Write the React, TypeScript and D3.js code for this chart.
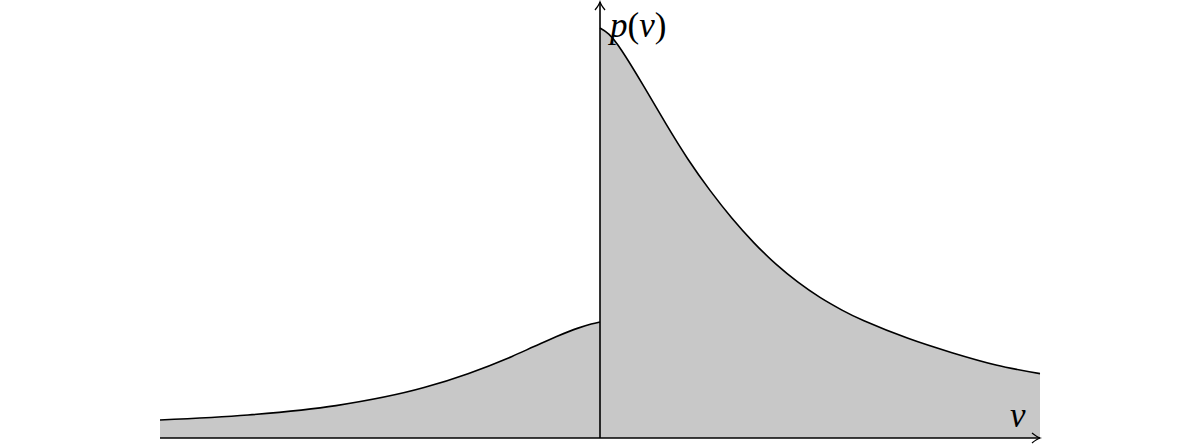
import React, { useEffect, useRef } from 'react';
import * as d3 from 'd3';

// density, negative side and positive side
const leftV = [-5, -4, -3, -2, -1.5, -1, -0.75, -0.5, -0.25, -0.1, 0];
const leftP = [0.044, 0.056, 0.079, 0.123, 0.157, 0.199, 0.223, 0.247, 0.268, 0.278, 0.283];
const rightV = [0, 0.1, 0.25, 0.5, 0.75, 1, 1.25, 1.5, 1.75, 2, 2.25, 2.5, 2.75, 3, 3.5, 4, 4.5, 5];
const rightP = [
  1.0, 0.985, 0.944, 0.857, 0.766, 0.68, 0.604, 0.536, 0.476, 0.424, 0.38, 0.343, 0.312, 0.286,
  0.243, 0.208, 0.178, 0.157,
];

const App = () => {
  const ref = useRef<SVGSVGElement | null>(null);

  useEffect(() => {
    const width = 1200;
    const height = 446;
    const svg = d3.select(ref.current);
    svg.selectAll('*').remove();

    const x = d3.scaleLinear().domain([-5, 5]).range([160, 1040]);
    const y = d3.scaleLinear().domain([0, 1]).range([438, 28]);

    const left = leftV.map((v, i) => ({ v, p: leftP[i] }));
    const right = rightV.map((v, i) => ({ v, p: rightP[i] }));

    // monotone on the left keeps the top from wiggling, natural is smoother on the right
    const parts: [typeof left, d3.CurveFactory][] = [
      [left, d3.curveMonotoneX],
      [right, d3.curveNatural],
    ];

    parts.forEach(([data, curve]) => {
      const area = d3
        .area<{ v: number; p: number }>()
        .x((d) => x(d.v))
        .y0(y(0))
        .y1((d) => y(d.p))
        .curve(curve);
      const line = d3
        .line<{ v: number; p: number }>()
        .x((d) => x(d.v))
        .y((d) => y(d.p))
        .curve(curve);
      svg.append('path').datum(data).attr('d', area).attr('fill', '#c8c8c8');
      svg
        .append('path')
        .datum(data)
        .attr('d', line)
        .attr('fill', 'none')
        .attr('stroke', '#000')
        .attr('stroke-width', 1.6);
    });

    // axes
    const x0 = x(0);
    const yb = y(0);
    svg
      .append('line')
      .attr('x1', x(-5))
      .attr('x2', x(5))
      .attr('y1', yb)
      .attr('y2', yb)
      .attr('stroke', '#000')
      .attr('stroke-width', 1.4);
    svg
      .append('line')
      .attr('x1', x0)
      .attr('x2', x0)
      .attr('y1', yb)
      .attr('y2', 2)
      .attr('stroke', '#000')
      .attr('stroke-width', 1.6);

    // arrow heads
    const xe = x(5);
    svg
      .append('path')
      .attr('d', `M${xe - 8},${yb - 5} Q${xe - 3},${yb - 1} ${xe},${yb} Q${xe - 3},${yb + 1} ${xe - 8},${yb + 5}`)
      .attr('fill', 'none')
      .attr('stroke', '#000')
      .attr('stroke-width', 1.3);
    svg
      .append('path')
      .attr('d', `M${x0 - 5},10 Q${x0 - 1},5 ${x0},2 Q${x0 + 1},5 ${x0 + 5},10`)
      .attr('fill', 'none')
      .attr('stroke', '#000')
      .attr('stroke-width', 1.3);

    // labels
    const font = "'Liberation Serif', 'DejaVu Serif', serif";
    const lab = svg
      .append('text')
      .attr('x', x0 + 10)
      .attr('y', 37)
      .style('font-family', font)
      .style('font-size', '35px');
    lab.append('tspan').style('font-style', 'italic').text('p');
    lab.append('tspan').text('(');
    lab.append('tspan').style('font-style', 'italic').text('v');
    lab.append('tspan').text(')');

    svg
      .append('text')
      .attr('x', 1010)
      .attr('y', 427)
      .style('font-family', font)
      .style('font-size', '35px')
      .style('font-style', 'italic')
      .text('v');

    svg.attr('width', width).attr('height', height);
  }, []);

  return (
    <svg
      ref={ref}
      width={1200}
      height={446}
      style={{ position: 'absolute', left: 0, top: 0, background: '#fff' }}
    />
  );
};

export default App;
